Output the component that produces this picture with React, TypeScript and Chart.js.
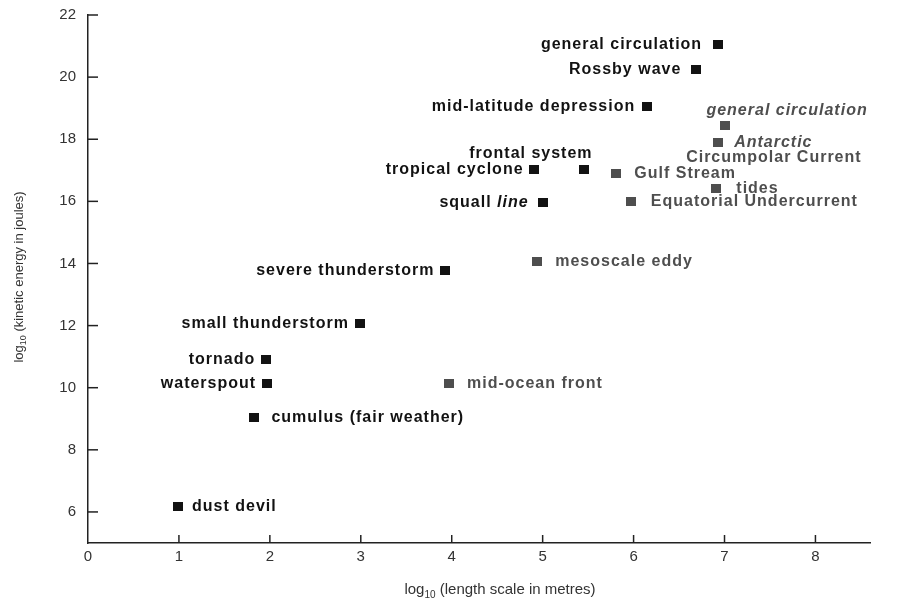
import React, { useEffect, useRef } from "react";
import { Chart, registerables } from "chart.js";

Chart.register(...registerables);

// ---------- data ----------
const atmosphereLabels = [
  "general circulation",
  "Rossby wave",
  "mid-latitude depression",
  "frontal system",
  "tropical cyclone",
  "squall line",
  "severe thunderstorm",
  "small thunderstorm",
  "tornado",
  "waterspout",
  "cumulus (fair weather)",
  "dust devil",
];
const atmosphereLength = [6.93, 6.69, 6.15, 5.45, 4.9, 5.0, 3.93, 2.99, 1.96, 1.97, 1.83, 0.99];
const atmosphereEnergy = [21.06, 20.23, 19.06, 17.03, 17.03, 15.97, 13.77, 12.06, 10.9, 10.13, 9.03, 6.16];

const oceanLabels = [
  "general circulation",
  "Antarctic Circumpolar Current",
  "Gulf Stream",
  "tides",
  "Equatorial Undercurrent",
  "mesoscale eddy",
  "mid-ocean front",
];
const oceanLength = [7.01, 6.93, 5.81, 6.91, 5.97, 4.94, 3.97];
const oceanEnergy = [18.45, 17.9, 16.9, 16.42, 16.0, 14.06, 10.13];

const xTickValues = [0, 1, 2, 3, 4, 5, 6, 7, 8];
const yTickValues = [6, 8, 10, 12, 14, 16, 18, 20, 22];
const xTitleParts = ["log", "10", " (length scale in metres)"];
const yTitleParts = ["log", "10", " (kinetic energy in joules)"];

// ---------- styling / layout ----------
const BLACK = "#121212";
const GRAY = "#4e4e4e";
const FONT = '"Liberation Sans", Arial, Helvetica, sans-serif';

type LineSpec = { from: number; to?: number; align: "left" | "right"; dx: number; dy: number; italic?: boolean; italicWords?: number[] };

const atmosphereLayout: Record<string, LineSpec[]> = {
  "general circulation": [{ from: 0, align: "right", dx: -16, dy: 0 }],
  "Rossby wave": [{ from: 0, align: "right", dx: -15, dy: 0 }],
  "mid-latitude depression": [{ from: 0, align: "right", dx: -12, dy: 0 }],
  "frontal system": [{ from: 0, align: "right", dx: 9, dy: -16 }],
  "tropical cyclone": [{ from: 0, align: "right", dx: -10, dy: 0 }],
  "squall line": [{ from: 0, align: "right", dx: -14, dy: 0, italicWords: [1] }],
  "cumulus (fair weather)": [{ from: 0, align: "left", dx: 17, dy: 0 }],
  "dust devil": [{ from: 0, align: "left", dx: 14, dy: 0 }],
};
const atmosphereDefault: LineSpec[] = [{ from: 0, align: "right", dx: -11, dy: 0 }];

const oceanLayout: Record<string, LineSpec[]> = {
  "general circulation": [{ from: 0, align: "left", dx: -19, dy: -15, italic: true }],
  "Antarctic Circumpolar Current": [
    { from: 0, to: 1, align: "left", dx: 16, dy: 0, italic: true },
    { from: 1, align: "left", dx: -32, dy: 15 },
  ],
  tides: [{ from: 0, align: "left", dx: 20, dy: 0 }],
  "Equatorial Undercurrent": [{ from: 0, align: "left", dx: 20, dy: 0 }],
};
const oceanDefault: LineSpec[] = [{ from: 0, align: "left", dx: 18, dy: 0 }];

function makeSquare(color: string) {
  const c = document.createElement("canvas");
  c.width = 10;
  c.height = 9;
  const g = c.getContext("2d")!;
  g.fillStyle = color;
  g.fillRect(0, 0, 10, 9);
  return c;
}

function drawLabel(ctx: CanvasRenderingContext2D, text: string, x: number, y: number, specs: LineSpec[]) {
  const words = text.split(" ");
  specs.forEach((s) => {
    const lw = words.slice(s.from, s.to ?? words.length);
    const parts = lw.map((w, i) => ({
      t: (i > 0 ? " " : "") + w,
      it: !!s.italic || (s.italicWords || []).includes(s.from + i),
    }));
    let total = 0;
    const widths = parts.map((p) => {
      ctx.font = `${p.it ? "italic " : ""}bold 16px ${FONT}`;
      const w = ctx.measureText(p.t).width;
      total += w;
      return w;
    });
    let cx = s.align === "left" ? x + s.dx : x + s.dx - total;
    parts.forEach((p, i) => {
      ctx.font = `${p.it ? "italic " : ""}bold 16px ${FONT}`;
      ctx.fillText(p.t, cx, y + s.dy);
      cx += widths[i];
    });
  });
}

function drawSubTitle(ctx: CanvasRenderingContext2D, parts: string[], cx: number, cy: number, size: number, family: string) {
  const main = `${size}px ${family}`;
  const sub = `${Math.round(size * 0.68)}px ${family}`;
  ctx.font = main;
  const w0 = ctx.measureText(parts[0]).width;
  const w2 = ctx.measureText(parts[2]).width;
  ctx.font = sub;
  const w1 = ctx.measureText(parts[1]).width;
  let x = cx - (w0 + w1 + w2) / 2;
  ctx.textAlign = "left";
  ctx.textBaseline = "alphabetic";
  ctx.font = main;
  ctx.fillText(parts[0], x, cy);
  x += w0;
  ctx.font = sub;
  ctx.fillText(parts[1], x, cy + size * 0.25);
  x += w1;
  ctx.font = main;
  ctx.fillText(parts[2], x, cy);
}

const decorPlugin = {
  id: "decor",
  afterDatasetsDraw(chart: any) {
    const ctx: CanvasRenderingContext2D = chart.ctx;
    const xs = chart.scales.x;
    const ys = chart.scales.y;
    const ca = chart.chartArea;
    ctx.save();
    // inward tick marks
    ctx.strokeStyle = "#222";
    ctx.lineWidth = 1.5;
    xTickValues.forEach((v) => {
      if (v === 0) return;
      const px = xs.getPixelForValue(v);
      ctx.beginPath();
      ctx.moveTo(px, ca.bottom);
      ctx.lineTo(px, ca.bottom - 8);
      ctx.stroke();
    });
    yTickValues.forEach((v) => {
      const py = ys.getPixelForValue(v);
      ctx.beginPath();
      ctx.moveTo(ca.left, py);
      ctx.lineTo(ca.left + 10, py);
      ctx.stroke();
    });

    // point labels
    ctx.textBaseline = "middle";
    ctx.textAlign = "left";
    (ctx as any).letterSpacing = "1px";
    const atmMeta = chart.getDatasetMeta(0);
    ctx.fillStyle = BLACK;
    atmosphereLabels.forEach((lab, i) => {
      const el = atmMeta.data[i];
      drawLabel(ctx, lab, el.x, el.y, atmosphereLayout[lab] || atmosphereDefault);
    });
    const ocMeta = chart.getDatasetMeta(1);
    ctx.fillStyle = GRAY;
    oceanLabels.forEach((lab, i) => {
      const el = ocMeta.data[i];
      drawLabel(ctx, lab, el.x, el.y, oceanLayout[lab] || oceanDefault);
    });
    (ctx as any).letterSpacing = "0px";

    // axis titles
    ctx.fillStyle = "#333";
    drawSubTitle(ctx, xTitleParts, 500, 594, 15, FONT);
    ctx.save();
    ctx.translate(23, 277);
    ctx.rotate(-Math.PI / 2);
    drawSubTitle(ctx, yTitleParts, 0, 0, 13, FONT);
    ctx.restore();
    ctx.restore();
  },
};

export default function App() {
  const ref = useRef<HTMLCanvasElement | null>(null);
  useEffect(() => {
    document.body.style.margin = "0";
    const blackSq = makeSquare(BLACK);
    const graySq = makeSquare(GRAY);
    const chart = new Chart(ref.current!, {
      type: "scatter",
      data: {
        datasets: [
          {
            label: "atmosphere",
            data: atmosphereLength.map((x, i) => ({ x, y: atmosphereEnergy[i] })),
            pointStyle: blackSq as any,
            pointRadius: 5,
            backgroundColor: BLACK,
          },
          {
            label: "ocean",
            data: oceanLength.map((x, i) => ({ x, y: oceanEnergy[i] })),
            pointStyle: graySq as any,
            pointRadius: 5,
            backgroundColor: GRAY,
          },
        ],
      },
      options: {
        responsive: false,
        animation: false,
        layout: { padding: { left: 0, right: 28, top: 15, bottom: 0 } },
        plugins: { legend: { display: false }, tooltip: { enabled: false } },
        scales: {
          x: {
            type: "linear",
            min: 0,
            max: 8.6,
            afterBuildTicks: (s: any) => {
              s.ticks = xTickValues.map((v) => ({ value: v }));
            },
            afterFit: (s: any) => {
              s.height = 58;
              s.paddingLeft = 0;
              s.paddingRight = 0;
            },
            grid: { display: false, drawTicks: false },
            border: { display: true, color: "#222", width: 1.5 },
            ticks: {
              padding: 5,
              color: "#333",
              font: { family: FONT, size: 15 },
              maxRotation: 0,
              autoSkip: false,
            },
          },
          y: {
            type: "linear",
            min: 5,
            max: 22,
            afterBuildTicks: (s: any) => {
              s.ticks = yTickValues.map((v) => ({ value: v }));
            },
            afterFit: (s: any) => {
              s.width = 88;
              s.paddingTop = 0;
              s.paddingBottom = 0;
            },
            grid: { display: false, drawTicks: false },
            border: { display: true, color: "#222", width: 1.5 },
            ticks: {
              padding: 12,
              color: "#333",
              font: { family: FONT, size: 15 },
              autoSkip: false,
            },
          },
        },
      },
      plugins: [decorPlugin],
    });
    return () => chart.destroy();
  }, []);
  return (
    <div style={{ position: "fixed", left: 0, top: 0, width: 898, height: 601, background: "#fff" }}>
      <canvas ref={ref} width={898} height={601} />
    </div>
  );
}
